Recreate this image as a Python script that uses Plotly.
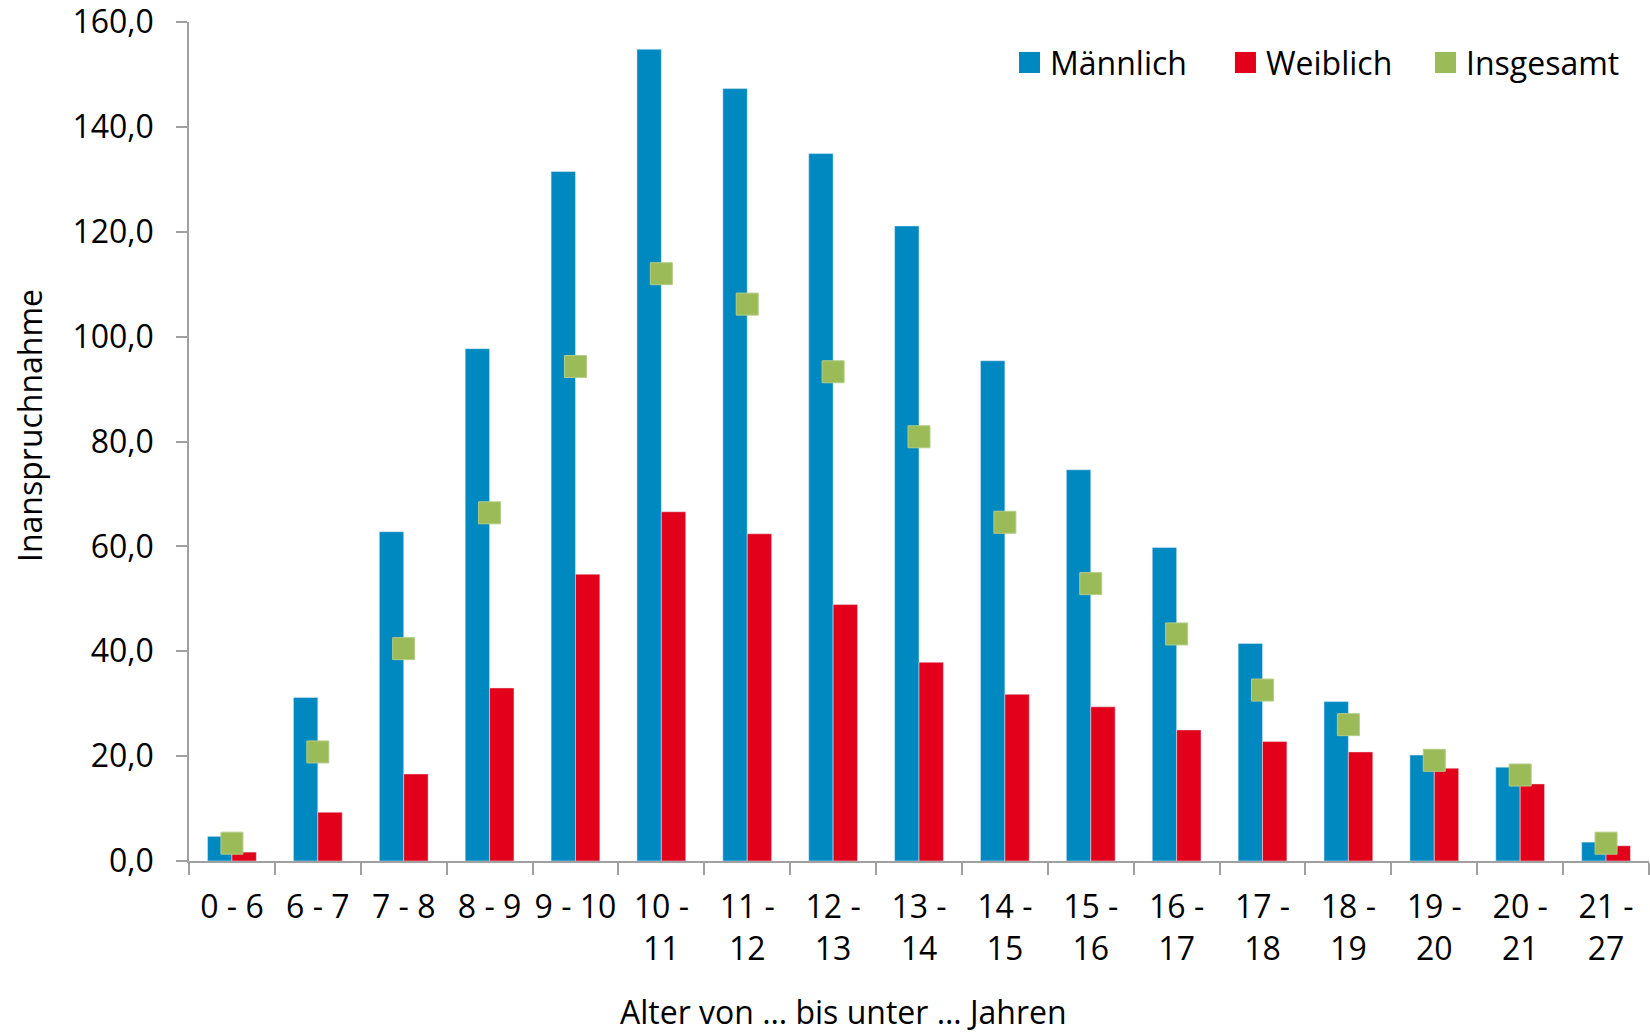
import plotly.graph_objects as go

# Age groups (x categories)
categories = ["0 - 6", "6 - 7", "7 - 8", "8 - 9", "9 - 10", "10 -<br>11", "11 -<br>12",
              "12 -<br>13", "13 -<br>14", "14 -<br>15", "15 -<br>16", "16 -<br>17",
              "17 -<br>18", "18 -<br>19", "19 -<br>20", "20 -<br>21", "21 -<br>27"]

# Utilisation per group
maennlich = [4.7, 31.2, 62.8, 97.7, 131.5, 154.8, 147.3, 134.9, 121.1, 95.4, 74.6,
             59.8, 41.5, 30.4, 20.2, 17.9, 3.6]
weiblich = [1.7, 9.3, 16.6, 33.0, 54.7, 66.6, 62.4, 48.9, 37.9, 31.8, 29.4,
            25.0, 22.8, 20.8, 17.7, 14.7, 2.9]
insgesamt = [3.4, 20.8, 40.5, 66.4, 94.3, 112.0, 106.2, 93.3, 80.9, 64.6, 52.9,
             43.3, 32.6, 26.0, 19.2, 16.4, 3.4]

y_ticks = [0, 20, 40, 60, 80, 100, 120, 140, 160]
y_tick_text = ["0,0", "20,0", "40,0", "60,0", "80,0", "100,0", "120,0", "140,0", "160,0"]

BLUE = "#0089C1"
RED = "#E2001A"
GREEN = "#9BBB59"
FONT = "Open Sans"
FS = 32

fig = go.Figure()
fig.add_bar(x=categories, y=maennlich, name="Männlich", marker_color=BLUE)
fig.add_bar(x=categories, y=weiblich, name="Weiblich", marker_color=RED)
fig.add_scatter(x=categories, y=insgesamt, name="Insgesamt", mode="markers",
                marker=dict(symbol="square", size=22, color=GREEN,
                            line=dict(width=1, color="#B5CC86")),
                cliponaxis=False)

# Legend row: square swatch + label, placed in the upper right of the plot area
legend_items = [("Männlich", BLUE, 0.5685), ("Weiblich", RED, 0.7164),
                ("Insgesamt", GREEN, 0.8534)]
sw_w, sw_top, sw_bot = 0.0144, 0.9643, 0.9392
for name, color, x0 in legend_items:
    fig.add_shape(type="rect", xref="paper", yref="paper", x0=x0, x1=x0 + sw_w,
                  y0=sw_bot, y1=sw_top, fillcolor=color, line=dict(width=0))
    fig.add_annotation(text=name, xref="paper", yref="paper", x=x0 + sw_w + 0.0055,
                       y=(sw_top + sw_bot) / 2, xanchor="left", yanchor="middle",
                       showarrow=False, font=dict(family=FONT, size=FS, color="black"))

# Axis titles
fig.add_annotation(text="Alter von … bis unter … Jahren", xref="paper", yref="paper",
                   x=0.448, y=-0.179, xanchor="center", yanchor="middle",
                   showarrow=False, font=dict(family=FONT, size=FS, color="black"))
fig.add_annotation(text="Inanspruchnahme", xref="paper", yref="paper",
                   x=-0.1089, y=0.5185, xanchor="center", yanchor="middle",
                   textangle=-90, showarrow=False,
                   font=dict(family=FONT, size=FS, color="black"))

axis_color = "#A0A0A0"
fig.update_layout(
    width=1650, height=1032,
    margin=dict(l=189, r=1, t=22, b=171),
    paper_bgcolor="white", plot_bgcolor="white",
    barmode="group", bargap=0.432, bargroupgap=0,
    font=dict(family=FONT, size=FS, color="black"),
    showlegend=False,
    xaxis=dict(
        type="category", range=[-0.5, len(categories) - 0.5], showgrid=False,
        showline=True, linecolor=axis_color, linewidth=1.5, ticks="outside",
        tickson="boundaries", ticklen=12, tickcolor=axis_color, tickwidth=1.5,
        tickangle=0, ticklabelstandoff=17, automargin=False,
    ),
    yaxis=dict(
        range=[0, 160], tickvals=y_ticks, ticktext=y_tick_text, showgrid=False,
        zeroline=False, showline=True, linecolor=axis_color, linewidth=1.5,
        ticks="outside", ticklen=11, tickcolor=axis_color, tickwidth=1.5,
        ticklabelstandoff=16, ticklabeloverflow="allow", automargin=False,
    ),
)

fig.write_html("out.html")
